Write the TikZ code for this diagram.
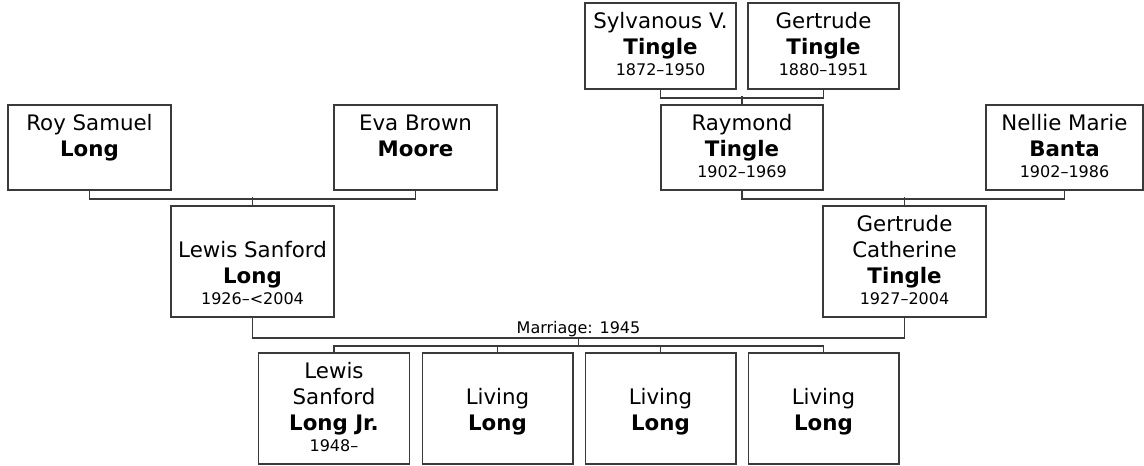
\documentclass[tikz,border=0pt]{standalone}
\usepackage{fontspec}
\setmainfont{DejaVu Sans}
\definecolor{treeline}{HTML}{3A3A3A}
\newcommand{\yrs}[1]{{\fontsize{12pt}{14.25pt}\selectfont\strut#1}}

\begin{document}
\begin{tikzpicture}[x=0.75pt,y=-0.75pt,
  person/.style={draw=treeline,line width=1.1pt,align=center,inner sep=0pt,
    font=\fontsize{16pt}{19.5pt}\selectfont},
  wide/.style={minimum width=122.25pt},
  narrow/.style={minimum width=113.25pt},
  short/.style={minimum height=63.75pt},
  tall/.style={minimum height=83.25pt},
  kid/.style={minimum width=112.9pt,minimum height=83.25pt},
  link/.style={draw=treeline,line width=1.3pt},
  note/.style={font=\fontsize{12pt}{14pt}\selectfont,inner sep=0pt}]
\useasboundingbox (0,0) rectangle (1144,466);

% great-grandparents
\node[person,narrow,minimum height=64.5pt] (sylvanous) at (660.5,46) {\strut Sylvanous V.\\\strut\textbf{Tingle}\\[-3.75pt]\yrs{1872–1950}};
\node[person,narrow,minimum height=64.5pt] (gertrude) at (823.5,46) {\strut Gertrude\\\strut\textbf{Tingle}\\[-3.75pt]\yrs{1880–1951}};

% grandparents
\node[person,wide,short] (roy) at (89.5,147.5) {\strut Roy Samuel\\\strut\textbf{Long}\\[-3.75pt]\yrs{}};
\node[person,wide,short] (eva) at (415.5,147.5) {\strut Eva Brown\\\strut\textbf{Moore}\\[-3.75pt]\yrs{}};
\node[person,short,minimum width=121.5pt] (raymond) at (742,147.5) {\strut Raymond\\\strut\textbf{Tingle}\\[-3.75pt]\yrs{1902–1969}};
\node[person,short,minimum width=117.75pt] (nellie) at (1064.5,147.5) {\strut Nellie Marie\\\strut\textbf{Banta}\\[-3.75pt]\yrs{1902–1986}};

% parents
\node[person,wide,tall] (lewis) at (252.5,261.5) {\strut\\\strut Lewis Sanford\\\strut\textbf{Long}\\[-3.75pt]\yrs{1926–<2004}};
\node[person,wide,tall] (gertcath) at (904.5,261.5) {\strut Gertrude\\\strut Catherine\\\strut\textbf{Tingle}\\[-3.75pt]\yrs{1927–2004}};

% children
\node[person,kid] (kid1) at (334,408.5) {\strut Lewis\\\strut Sanford\\\strut\textbf{Long Jr.}\\[-3.75pt]\yrs{1948–}};
\node[person,kid] (kid2) at (497.5,408.5) {\strut\\\strut Living\\\strut\textbf{Long}\\[-3.75pt]\yrs{}};
\node[person,kid] (kid3) at (660.5,408.5) {\strut\\\strut Living\\\strut\textbf{Long}\\[-3.75pt]\yrs{}};
\node[person,kid] (kid4) at (823.5,408.5) {\strut\\\strut Living\\\strut\textbf{Long}\\[-3.75pt]\yrs{}};

% couples
\draw[link] (sylvanous.south) -- ++(0,8) -| (gertrude.south);
\draw[link] (raymond.north) -- ++(0,-8);
\draw[link] (roy.south) -- ++(0,8) -| (eva.south);
\draw[link] (lewis.north) -- ++(0,-8);
\draw[link] (raymond.south) -- ++(0,8) -| (nellie.south);
\draw[link] (gertcath.north) -- ++(0,-8);

% marriage and children
\coordinate (wed) at (578.5,338);
\draw[link] (lewis.south) |- (wed) -| (gertcath.south);
\node[note,anchor=base] (marriage) at (578.5,333) {Marriage: 1945};
\draw[link] (wed) -- ++(0,8) coordinate (kidbar);
\draw[link] (kid1.north) |- (kidbar) -| (kid4.north);
\draw[link] (kid2.north) -- (kid2.north |- kidbar);
\draw[link] (kid3.north) -- (kid3.north |- kidbar);
\end{tikzpicture}
\end{document}
